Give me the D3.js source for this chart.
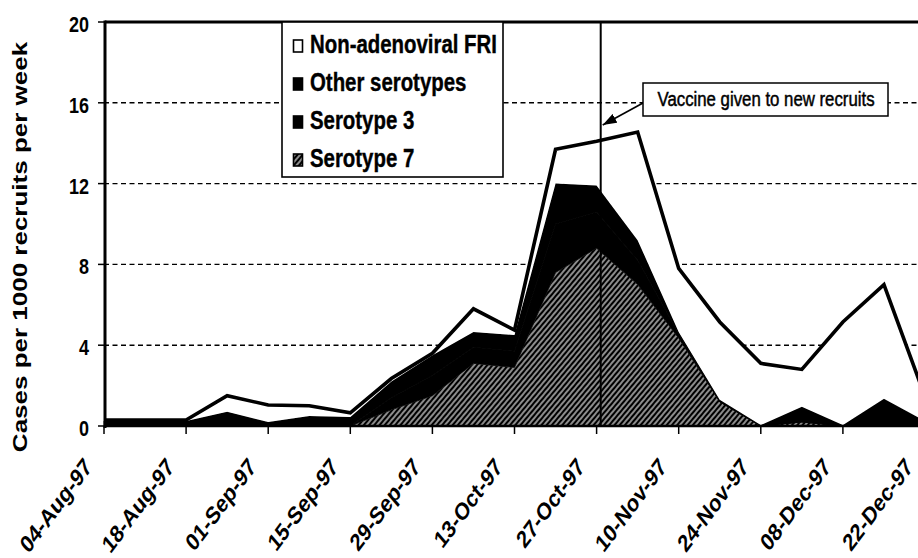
<!DOCTYPE html>
<html>
<head>
<meta charset="utf-8">
<script src="https://cdnjs.cloudflare.com/ajax/libs/d3/7.8.5/d3.min.js"></script>
<style>
  body { margin: 0; background: #fff; }
  svg { display: block; }
  text { font-family: "Liberation Sans", Arial, Helvetica, sans-serif; }
</style>
</head>
<body>
<div id="chart"></div>
<script>
// one point per week (Monday of the week)
var weeks = ["04-Aug-97", "11-Aug-97", "18-Aug-97", "25-Aug-97", "01-Sep-97", "08-Sep-97",
    "15-Sep-97", "22-Sep-97", "29-Sep-97", "06-Oct-97", "13-Oct-97", "20-Oct-97",
    "27-Oct-97", "03-Nov-97", "10-Nov-97", "17-Nov-97", "24-Nov-97", "01-Dec-97",
    "08-Dec-97", "15-Dec-97", "22-Dec-97"];

// cases per 1000 recruits per week (stack order bottom -> top)
var serotype7 = [0, 0, 0, 0, 0, 0, 0, 0.8, 1.5, 3.1, 2.9, 7.6, 8.8, 7.0, 4.35, 1.2, 0, 0.2, 0, 0, 0];
var serotype3 = [0, 0, 0, 0, 0, 0, 0, 0.6, 1.0, 0.8, 0.8, 2.4, 1.8, 1.2, 0.2, 0, 0, 0, 0, 0, 0];
var otherSerotypes = [0.25, 0.25, 0.25, 0.7, 0.2, 0.5, 0.45, 0.8, 1.0, 0.75, 0.8, 2.0, 1.3, 1.0, 0.1, 0.1, 0.05, 0.75, 0.05, 1.35, 0.25];
var nonAdenoviral = [0.05, 0.05, 0.05, 0.8, 0.84, 0.5, 0.2, 0.15, 0.1, 1.15, 0.25, 1.7, 2.2, 5.35, 3.15, 3.85, 3.05, 1.85, 5.1, 5.65, 1.2];

var yTicks = [0, 4, 8, 12, 16, 20];
var legendLabels = ["Non-adenoviral FRI", "Other serotypes", "Serotype 3", "Serotype 7"];
var yTitle = "Cases per 1000 recruits per week";
var vaccineWeek = 12.1;
var vaccineNote = "Vaccine given to new recruits";

// the scanned figure is squeezed horizontally, so text is too
var SX = 0.8;

var width = 918,
    height = 558;

var svg = d3.select("#chart")
    .append("svg")
    .attr("width", width)
    .attr("height", height);

var defs = svg.append("defs");

// diagonal hatch for serotype 7
var hatch = defs.append("pattern")
    .attr("id", "hatch")
    .attr("patternUnits", "userSpaceOnUse")
    .attr("width", 4)
    .attr("height", 4)
    .attr("patternTransform", "rotate(40)");
hatch.append("rect")
    .attr("width", 4)
    .attr("height", 4)
    .attr("fill", "#000");
hatch.append("line")
    .attr("x1", 2).attr("y1", 0)
    .attr("x2", 2).attr("y2", 4)
    .attr("stroke", "#fff")
    .attr("stroke-width", 1.1);

defs.append("marker")
    .attr("id", "arrow")
    .attr("markerUnits", "userSpaceOnUse")
    .attr("viewBox", "0 0 14 10")
    .attr("refX", 14)
    .attr("refY", 5)
    .attr("markerWidth", 14)
    .attr("markerHeight", 10)
    .attr("orient", "auto")
    .append("path")
    .attr("d", "M0,0 L14,5 L0,10 Z")
    .attr("fill", "#000");

// scales
var x = d3.scaleLinear()
    .domain([0, weeks.length - 1])
    .range([104, 925]);

var y = d3.scaleLinear()
    .domain([0, 20])
    .range([426, 22]);

// gridlines
svg.append("g")
    .selectAll("line")
    .data(yTicks.filter(function (d) { return d > 0 && d < 20; }))
    .enter()
    .append("line")
    .attr("x1", x(0))
    .attr("x2", x(weeks.length - 1))
    .attr("y1", function (d) { return y(d); })
    .attr("y2", function (d) { return y(d); })
    .attr("stroke", "#000")
    .attr("stroke-width", 1.4)
    .attr("stroke-dasharray", "5,3.5");

// stacked areas
var rows = weeks.map(function (w, i) {
    return {
        week: i,
        s7: serotype7[i],
        s3: serotype3[i],
        other: otherSerotypes[i],
        non: nonAdenoviral[i]
    };
});

var keys = ["s7", "s3", "other", "non"];
var fills = {s7: "url(#hatch)", s3: "#000", other: "#000", non: "#fff"};

var series = d3.stack().keys(keys)(rows);

var area = d3.area()
    .x(function (d) { return x(d.data.week); })
    .y0(function (d) { return y(d[0]); })
    .y1(function (d) { return y(d[1]); });

svg.append("g")
    .selectAll("path")
    .data(series)
    .enter()
    .append("path")
    .attr("d", area)
    .attr("fill", function (d) { return fills[d.key]; })
    .attr("stroke", function (d) { return d.key == "s3" || d.key == "other" ? "#000" : "none"; })
    .attr("stroke-width", 0.8);

// vaccine date
svg.append("line")
    .attr("x1", x(vaccineWeek))
    .attr("x2", x(vaccineWeek))
    .attr("y1", y(20))
    .attr("y2", y(0))
    .attr("stroke", "#000")
    .attr("stroke-width", 2);

// total outline
var line = d3.line()
    .x(function (d) { return x(d.data.week); })
    .y(function (d) { return y(d[1]); });

svg.append("path")
    .datum(series[series.length - 1])
    .attr("d", line)
    .attr("fill", "none")
    .attr("stroke", "#000")
    .attr("stroke-width", 3.6)
    .attr("stroke-linejoin", "miter");

// axes frame
svg.append("line")
    .attr("x1", x(0) + 1).attr("x2", width)
    .attr("y1", y(20)).attr("y2", y(20))
    .attr("stroke", "#000").attr("stroke-width", 3);

svg.append("line")
    .attr("x1", x(0) + 1).attr("x2", x(0) + 1)
    .attr("y1", y(20) - 1.5).attr("y2", y(0) + 2)
    .attr("stroke", "#000").attr("stroke-width", 3);

svg.append("line")
    .attr("x1", x(0)).attr("x2", width)
    .attr("y1", y(0)).attr("y2", y(0))
    .attr("stroke", "#000").attr("stroke-width", 2.5);

// y ticks and labels
var yAxis = svg.append("g");
yAxis.selectAll("line")
    .data(yTicks)
    .enter()
    .append("line")
    .attr("x1", x(0) - 6).attr("x2", x(0))
    .attr("y1", function (d) { return y(d); })
    .attr("y2", function (d) { return y(d); })
    .attr("stroke", "#000").attr("stroke-width", 1.5);

yAxis.selectAll("text")
    .data(yTicks)
    .enter()
    .append("text")
    .attr("transform", function (d) {
        return "translate(89," + (y(d) + 10) + ") scale(" + SX + ",1)";
    })
    .attr("text-anchor", "end")
    .attr("font-size", 22.5)
    .attr("font-weight", "bold")
    .text(function (d) { return d; });

// x ticks and labels, every other week
var xTicks = d3.range(0, weeks.length, 2);
var xAxis = svg.append("g");
xAxis.selectAll("line")
    .data(xTicks)
    .enter()
    .append("line")
    .attr("x1", function (d) { return x(d); })
    .attr("x2", function (d) { return x(d); })
    .attr("y1", y(0))
    .attr("y2", y(0) + 8)
    .attr("stroke", "#000").attr("stroke-width", 1.5);

xAxis.selectAll("text")
    .data(xTicks)
    .enter()
    .append("text")
    .attr("transform", function (d) {
        return "translate(" + (x(d) - 11) + "," + (y(0) + 42) + ") scale(" + SX + ",1) rotate(-47)";
    })
    .attr("text-anchor", "end")
    .attr("font-size", 24.5)
    .attr("font-weight", "bold")
    .text(function (d) { return weeks[d]; });

// y axis title
svg.append("text")
    .attr("transform", "translate(27,247) scale(" + SX + ",1) rotate(-90)")
    .attr("text-anchor", "middle")
    .attr("font-size", 26)
    .attr("font-weight", "bold")
    .text(yTitle);

// legend
var legend = svg.append("g")
    .attr("transform", "translate(282,22)");

legend.append("rect")
    .attr("width", 221)
    .attr("height", 155)
    .attr("fill", "#fff")
    .attr("stroke", "#000")
    .attr("stroke-width", 1.6);

var legendFills = ["#fff", "#000", "#000", "url(#hatch)"];

var item = legend.selectAll("g.item")
    .data(legendLabels)
    .enter()
    .append("g")
    .attr("class", "item")
    .attr("transform", function (d, i) { return "translate(0," + (31 + i * 38) + ")"; });

item.append("rect")
    .attr("x", 11.5)
    .attr("y", -13)
    .attr("width", 9)
    .attr("height", 12)
    .attr("fill", function (d, i) { return legendFills[i]; })
    .attr("stroke", "#000")
    .attr("stroke-width", 1.6);

item.append("text")
    .attr("transform", "translate(28,0) scale(" + SX + ",1)")
    .attr("font-size", 25.5)
    .attr("font-weight", "bold")
    .attr("stroke", "#000")
    .attr("stroke-width", 0.4)
    .text(function (d) { return d; });

// vaccine note with arrow
var note = svg.append("g");
note.append("line")
    .attr("x1", 643).attr("y1", 103)
    .attr("x2", x(vaccineWeek) + 2).attr("y2", 125)
    .attr("stroke", "#000")
    .attr("stroke-width", 1.6)
    .attr("marker-end", "url(#arrow)");

note.append("rect")
    .attr("x", 643).attr("y", 83)
    .attr("width", 245).attr("height", 33)
    .attr("fill", "#fff")
    .attr("stroke", "#000")
    .attr("stroke-width", 1.5);

note.append("text")
    .attr("transform", "translate(766,106) scale(" + SX + ",1)")
    .attr("text-anchor", "middle")
    .attr("font-size", 21)
    .attr("stroke", "#000")
    .attr("stroke-width", 0.5)
    .text(vaccineNote);
</script>
</body>
</html>
